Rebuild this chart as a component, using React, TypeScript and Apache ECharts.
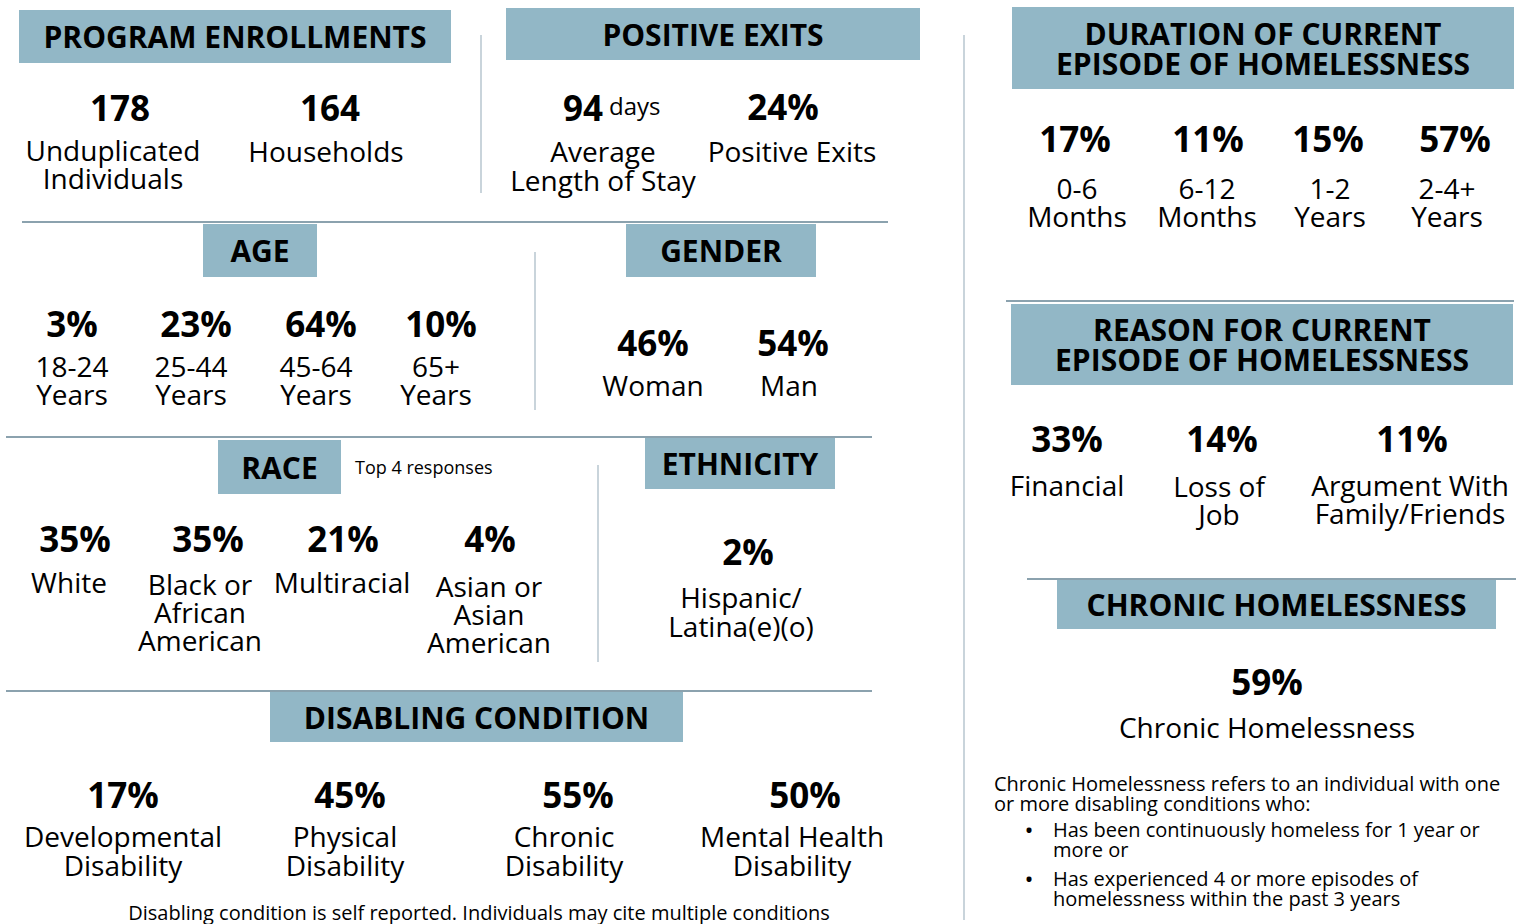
import React, { useEffect, useRef } from "react";
import * as echarts from "echarts";

// ---------- DATA ----------
const enrollmentValues = [178, 164];
const enrollmentLabels = ["Unduplicated\nIndividuals", "Households"];
const avgStayDays = 94;
const positiveExitPct = 24;
const exitLabels = ["Average\nLength of Stay", "Positive Exits"];
const ageCategories = ["18-24\nYears", "25-44\nYears", "45-64\nYears", "65+\nYears"];
const ageValues = [3, 23, 64, 10];
const genderCategories = ["Woman", "Man"];
const genderValues = [46, 54];
const raceCategories = ["White", "Black or\nAfrican\nAmerican", "Multiracial", "Asian or\nAsian\nAmerican"];
const raceValues = [35, 35, 21, 4];
const ethnicityCategories = ["Hispanic/\nLatina(e)(o)"];
const ethnicityValues = [2];
const disabilityCategories = ["Developmental\nDisability", "Physical\nDisability", "Chronic\nDisability", "Mental Health\nDisability"];
const disabilityValues = [17, 45, 55, 50];
const durationCategories = ["0-6\nMonths", "6-12\nMonths", "1-2\nYears", "2-4+\nYears"];
const durationValues = [17, 11, 15, 57];
const reasonCategories = ["Financial", "Loss of\nJob", "Argument With\nFamily/Friends"];
const reasonValues = [33, 14, 11];
const chronicLabel = "Chronic Homelessness";
const chronicValue = 59;
const chronicDefinition = "Chronic Homelessness refers to an individual with one\nor more disabling conditions who:";
const chronicBullets = ["Has been continuously homeless for 1 year or\nmore or", "Has experienced 4 or more episodes of\nhomelessness within the past 3 years"];
const disabilityNote = "Disabling condition is self reported. Individuals may cite multiple conditions";
const raceNote = "Top 4 responses";

// ---------- STYLE ----------
const FONT = '"Open Sans", "Noto Sans", sans-serif';
const HEADER = "#92b7c6";
const HLINE = "#8ba2ae";
const VLINE = "#c9d4db";
const INK = "#000000";
const VAL_SIZE = 35;
const LAB_SIZE = 28;
const HEAD_SIZE = 30;
const NOTE_SIZE = 20;

function txt(x: number, y: number, text: string, size: number, weight: string | number = "normal", align = "center", vAlign = "middle", lineHeight?: number) {
  return {
    type: "text",
    x,
    y,
    style: {
      text,
      fontFamily: FONT,
      fontSize: size,
      fontWeight: weight,
      fill: INK,
      align,
      verticalAlign: vAlign,
      lineHeight: lineHeight ?? Math.round(size * 1.05),
    },
  };
}
function box(x: number, y: number, w: number, h: number) {
  return { type: "rect", shape: { x, y, width: w, height: h }, style: { fill: HEADER } };
}
function hline(x1: number, x2: number, y: number) {
  return { type: "line", shape: { x1, y1: y, x2, y2: y }, style: { stroke: HLINE, lineWidth: 2 } };
}
function vline(x: number, y1: number, y2: number) {
  return { type: "line", shape: { x1: x, y1, x2: x, y2 }, style: { stroke: VLINE, lineWidth: 2 } };
}
function header(x: number, y: number, w: number, h: number, title: string, lh = 30) {
  return [box(x, y, w, h), txt(x + w / 2, y + h / 2, title, HEAD_SIZE, "bold", "center", "middle", lh)];
}
function group(values: (number | string)[], labels: string[], vx: number[], vy: number, lx: number[], ly: number[], lh = 28) {
  const out: any[] = [];
  values.forEach((v, i) => {
    out.push(txt(vx[i], vy, typeof v === "number" ? `${v}%` : v, VAL_SIZE, "bold"));
    out.push(txt(lx[i], ly[i] - lh / 2, labels[i], LAB_SIZE, "normal", "center", "top", lh));
  });
  return out;
}

export default function App() {
  const ref = useRef<HTMLDivElement>(null);
  useEffect(() => {
    document.body.style.margin = "0";
    const chart = echarts.init(ref.current!, undefined, { renderer: "svg" });
    const els: any[] = [];

    // separators
    els.push(vline(481, 35, 193));
    els.push(hline(22, 888, 222));
    els.push(vline(535, 252, 410));
    els.push(hline(6, 872, 437));
    els.push(vline(598, 465, 662));
    els.push(hline(6, 872, 691));
    els.push(vline(964, 35, 920));
    els.push(hline(1006, 1514, 301));
    els.push(hline(1027, 1516, 579));

    // Program enrollments
    els.push(...header(19, 10, 432, 53, "PROGRAM ENROLLMENTS"));
    els.push(...group(enrollmentValues.map(String), enrollmentLabels, [120, 330], 107, [113, 326], [150, 151]));

    // Positive exits
    els.push(...header(506, 8, 414, 52, "POSITIVE EXITS"));
    els.push(txt(603, 107, String(avgStayDays), VAL_SIZE, "bold", "right"));
    els.push(txt(609, 105, "days", 24, "normal", "left"));
    els.push(txt(603, 151 - 14.5, exitLabels[0], LAB_SIZE, "normal", "center", "top", 29));
    els.push(txt(783, 106, `${positiveExitPct}%`, VAL_SIZE, "bold"));
    els.push(txt(792, 151 - 14, exitLabels[1], LAB_SIZE, "normal", "center", "top", 28));

    // Age
    els.push(...header(203, 224, 114, 53, "AGE"));
    els.push(...group(ageValues, ageCategories, [72, 196, 321, 441], 323, [72, 191, 316, 436], [366, 366, 366, 366]));

    // Gender
    els.push(...header(626, 224, 190, 53, "GENDER"));
    els.push(...group(genderValues, genderCategories, [653, 793], 342, [653, 789], [385, 385]));

    // Race
    els.push(...header(218, 440, 123, 54, "RACE"));
    els.push(txt(355, 467, raceNote, 18, "normal", "left"));
    els.push(...group(raceValues, raceCategories, [75, 208, 343, 490], 538, [69, 200, 342, 489], [582, 584, 582, 586]));

    // Ethnicity
    els.push(...header(645, 438, 190, 51, "ETHNICITY"));
    els.push(...group(ethnicityValues, ethnicityCategories, [748], 551, [741], [597], 29));

    // Disabling condition
    els.push(...header(270, 692, 413, 50, "DISABLING CONDITION"));
    els.push(...group(disabilityValues, disabilityCategories, [123, 350, 578, 805], 794, [123, 345, 564, 792], [836, 836, 836, 836], 29));
    els.push(txt(479, 912, disabilityNote, NOTE_SIZE, "normal"));

    // Duration
    els.push(...header(1012, 7, 502, 82, "DURATION OF CURRENT\nEPISODE OF HOMELESSNESS"));
    els.push(...group(durationValues, durationCategories, [1075, 1208, 1328, 1455], 138, [1077, 1207, 1330, 1447], [188, 188, 188, 188]));

    // Reason
    els.push(...header(1011, 304, 502, 81, "REASON FOR CURRENT\nEPISODE OF HOMELESSNESS"));
    els.push(...group(reasonValues, reasonCategories, [1067, 1222, 1412], 438, [1067, 1219, 1410], [485, 486, 485]));

    // Chronic
    els.push(...header(1057, 580, 439, 49, "CHRONIC HOMELESSNESS"));
    els.push(...group([chronicValue], [chronicLabel], [1267], 681, [1267], [727]));
    els.push(txt(994, 783 - 10, chronicDefinition, NOTE_SIZE, "normal", "left", "top", 20));
    const bulletY = [829, 878];
    chronicBullets.forEach((b, i) => {
      els.push(txt(1029, bulletY[i], "•", 24, "normal", "center"));
      els.push(txt(1053, bulletY[i] - 10, b, NOTE_SIZE, "normal", "left", "top", 20));
    });

    chart.setOption({ animation: false, backgroundColor: "#ffffff", graphic: { elements: els } });
    return () => chart.dispose();
  }, []);
  return <div ref={ref} style={{ width: 1528, height: 924 }} />;
}
